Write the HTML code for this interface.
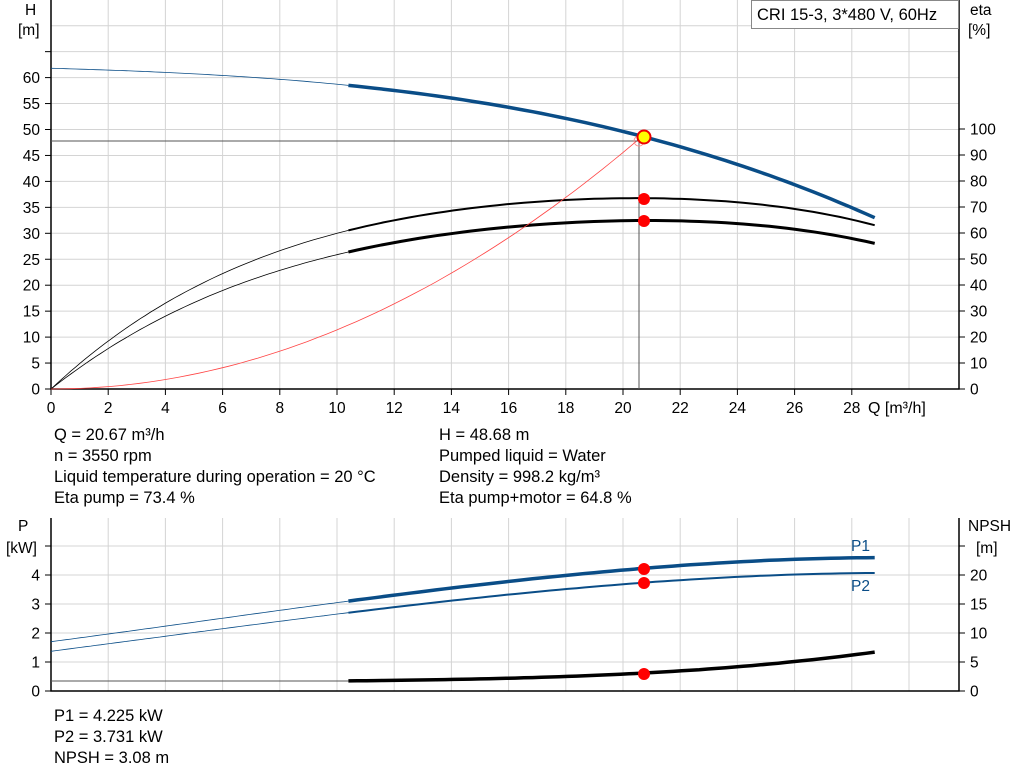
<!DOCTYPE html>
<html><head><meta charset="utf-8"><style>
body{margin:0;background:#fff;}
svg{display:block;font-family:"Liberation Sans",sans-serif;}
</style></head><body>
<svg id="s" width="1024" height="781" xmlns="http://www.w3.org/2000/svg"></svg>
<script>
const S=document.getElementById('s');let h='';
const X=q=>51+q*28.6;
const TY=H=>389-H*5.19, EY=e=>389-e*2.6;
const FS=15.5;
for(let q=2;q<=32;q+=2){const x=X(q);if(x<959)h+=`<line x1="${x}" y1="0" x2="${x}" y2="389" stroke="#d4d4d4"/>`;}
for(let H=5;H<=75;H+=5){const y=TY(H);if(y>0)h+=`<line x1="51" y1="${y}" x2="959" y2="${y}" stroke="#d4d4d4"/>`;}
const PY=p=>691-p*29;
for(let q=2;q<=32;q+=2){const x=X(q);if(x<959)h+=`<line x1="${x}" y1="518" x2="${x}" y2="691" stroke="#d4d4d4"/>`;}
for(let p=1;p<=5;p++){h+=`<line x1="51" y1="${PY(p)}" x2="959" y2="${PY(p)}" stroke="#d4d4d4"/>`;}
h+=`<path d="M51 0V389H959V0" fill="none" stroke="#000" stroke-width="1.5"/>`;
h+=`<path d="M51 518V691H959V518" fill="none" stroke="#000" stroke-width="1.5"/>`;
for(let H=0;H<=65;H+=5){const y=TY(H);h+=`<line x1="45" y1="${y}" x2="51" y2="${y}" stroke="#000"/>`;if(H<=60)h+=`<text x="40" y="${y+5.5}" font-size="${FS}" text-anchor="end">${H}</text>`;}
for(let e=0;e<=100;e+=10){const y=EY(e);h+=`<line x1="959" y1="${y}" x2="965" y2="${y}" stroke="#000"/><text x="970" y="${y+5.5}" font-size="${FS}">${e}</text>`;}
for(let q=0;q<=28;q+=2){const x=X(q);h+=`<line x1="${x}" y1="389" x2="${x}" y2="395" stroke="#000"/><text x="${x}" y="413" font-size="${FS}" text-anchor="middle">${q}</text>`;}
h+=`<text x="868" y="413" font-size="16">Q [m³/h]</text>`;
h+=`<text x="25" y="15" font-size="${FS}">H</text><text x="18" y="35" font-size="${FS}">[m]</text>`;
h+=`<text x="970" y="15" font-size="${FS}">eta</text><text x="968" y="35" font-size="${FS}">[%]</text>`;
h+=`<rect x="751.5" y="0.5" width="207" height="28" fill="#fff" stroke="#888"/><text x="757" y="20" font-size="16.5">CRI 15-3, 3*480 V, 60Hz</text>`;
for(let p=0;p<=5;p++){const y=PY(p);h+=`<line x1="45" y1="${y}" x2="51" y2="${y}" stroke="#000"/>`;if(p<5)h+=`<text x="40" y="${y+5.5}" font-size="${FS}" text-anchor="end">${p}</text>`;}
for(let n=0;n<=25;n+=5){const y=691-n*5.8;h+=`<line x1="959" y1="${y}" x2="965" y2="${y}" stroke="#000"/>`;if(n<25)h+=`<text x="970" y="${y+5.5}" font-size="${FS}">${n}</text>`;}
h+=`<text x="18" y="531" font-size="${FS}">P</text><text x="6" y="553" font-size="${FS}">[kW]</text>`;
h+=`<text x="968" y="531" font-size="${FS}">NPSH</text><text x="976" y="553" font-size="${FS}">[m]</text>`;
function lag(pts){return q=>{let s=0;for(let i=0;i<pts.length;i++){let t=pts[i][1];for(let j=0;j<pts.length;j++)if(j!=i)t*=(q-pts[j][0])/(pts[i][0]-pts[j][0]);s+=t;}return s;};}
function path(f,a,b,Y){let d='';for(let q=a;q<=b+1e-9;q+=(b-a)/60)d+=(d?'L':'M')+X(q).toFixed(1)+' '+Y(f(q)).toFixed(1);return d;}
function curve(pts,Y,col,w){const f=lag(pts);h+=`<path d="${path(f,0,10.4,Y)}" fill="none" stroke="${col}" stroke-width="0.8"/><path d="${path(f,10.4,28.8,Y)}" fill="none" stroke="${col}" stroke-width="${w}"/>`;}
curve([[0,61.8],[10.4,58.5],[20.67,48.68],[28.8,33]],TY,'#0a4d87',3.5);
curve([[0,0],[4,33],[10.4,61],[20.67,73.4],[28.8,63]],EY,'#000',2);
curve([[0,0],[4,28],[10.4,52.7],[20.67,64.8],[28.8,56]],EY,'#000',3);
h+=`<path d="${path(q=>48.68*(q/20.67)**2,0,20.67,TY)}" fill="none" stroke="#f44" stroke-width="0.8"/>`;
h+=`<path d="M51 141H639V389" fill="none" stroke="#555" stroke-width="1"/>`;
h+=`<circle cx="639" cy="141" r="5" fill="none" stroke="#f88" stroke-width="0.8"/>`;
h+=`<circle cx="644" cy="137" r="6.5" fill="#ff0" stroke="#e00" stroke-width="2"/>`;
h+=`<circle cx="644" cy="199" r="6" fill="#f00"/><circle cx="644" cy="221" r="6" fill="#f00"/>`;
curve([[0,1.7],[10.4,3.1],[20.67,4.225],[28.8,4.6]],PY,'#0a4d87',3.5);
curve([[0,1.37],[10.4,2.7],[20.67,3.731],[28.8,4.07]],PY,'#0a4d87',2);
const NY=n=>691-n*5.8;
h+=`<line x1="51" y1="681" x2="${X(10.4)}" y2="681" stroke="#555"/>`;
const fn=lag([[10.4,1.75],[16,2.2],[20.67,3.08],[28.8,6.7]]);
h+=`<path d="${path(fn,10.4,28.8,NY)}" fill="none" stroke="#000" stroke-width="3.5"/>`;
h+=`<circle cx="644" cy="569" r="6" fill="#f00"/><circle cx="644" cy="583" r="6" fill="#f00"/><circle cx="644" cy="674" r="6" fill="#f00"/>`;
h+=`<text x="851" y="551" font-size="${FS}" fill="#0a4d87">P1</text><text x="851" y="591" font-size="${FS}" fill="#0a4d87">P2</text>`;
const T=(x,y,t)=>h+=`<text x="${x}" y="${y}" font-size="16.5">${t}</text>`;
T(54,440,'Q = 20.67 m³/h');T(54,461,'n = 3550 rpm');T(54,482,'Liquid temperature during operation = 20 °C');T(54,503,'Eta pump = 73.4 %');
T(439,440,'H = 48.68 m');T(439,461,'Pumped liquid = Water');T(439,482,'Density = 998.2 kg/m³');T(439,503,'Eta pump+motor = 64.8 %');
T(54,721,'P1 = 4.225 kW');T(54,742,'P2 = 3.731 kW');T(54,763,'NPSH = 3.08 m');
S.innerHTML=h;
</script>
</body></html>
